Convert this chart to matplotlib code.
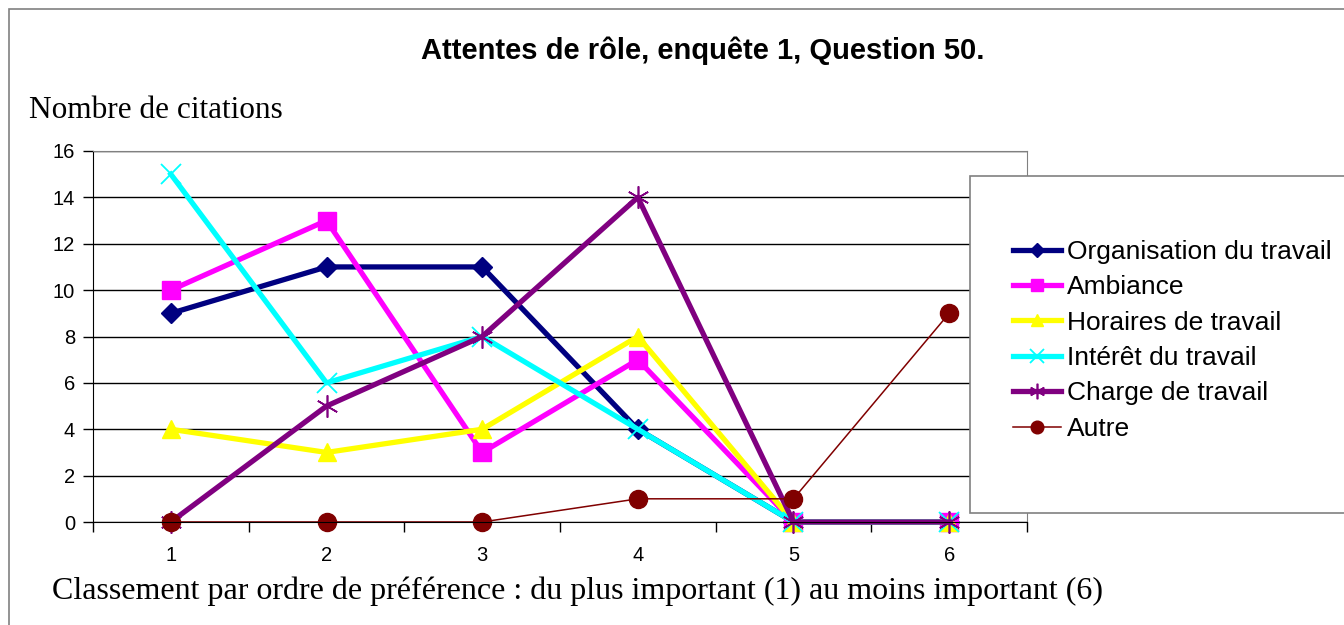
import matplotlib.pyplot as plt
from matplotlib.patches import Rectangle
import numpy as np

# ranks 1..6 and citation counts per criterion
ranks = [1, 2, 3, 4, 5, 6]
organisation = [9, 11, 11, 4, 0, 0]
ambiance = [10, 13, 3, 7, 0, 0]
horaires = [4, 3, 4, 8, 0, 0]
interet = [15, 6, 8, 4, 0, 0]
charge = [0, 5, 8, 14, 0, 0]
autre = [0, 0, 0, 1, 1, 9]

labels = ['Organisation du travail', 'Ambiance', 'Horaires de travail',
          'Intérêt du travail', 'Charge de travail', 'Autre']

W, H = 1344, 625
fig = plt.figure(figsize=(W / 100, H / 100), dpi=100)

# outer chart frame
fig.patches.append(Rectangle((9 / W, -0.05), 1.2, 1 - 9 / H + 0.05,
                             transform=fig.transFigure, fill=False,
                             edgecolor='#808080', linewidth=1.2, zorder=0))

ax = fig.add_axes([93 / W, (H - 522) / H, 934 / W, 371 / H])

# series: (values, color, marker, marker size, line width, marker edge width)
styles = [
    (organisation, '#000080', 'D', 10, 3.8, 1),
    (ambiance, '#FF00FF', 's', 13, 3.8, 1),
    (horaires, '#FFFF00', '^', 13, 3.8, 1),
    (interet, '#00FFFF', 'x', 15, 3.8, 1.3),
    (charge, '#800080', (6, 2, 0), 16, 3.8, 1.2),
    (autre, '#800000', 'o', 13, 1.1, 1),
]

handles = []
for (vals, col, mk, ms, lw, mew), lab in zip(styles, labels):
    h, = ax.plot(ranks, vals, color=col, marker=mk, markersize=ms,
                 linewidth=lw, markeredgewidth=mew, markerfacecolor=col,
                 markeredgecolor=col, label=lab, clip_on=False)
    handles.append(h)

ax.set_xlim(0.5, 6.5)
ax.set_ylim(0, 16)
ax.set_yticks(np.arange(0, 17, 2))
ax.set_xticks(ranks)
ax.set_xticks(np.arange(0.5, 6.6, 1), minor=True)
ax.tick_params(axis='x', which='major', length=0, pad=17, labelsize=14.5)
ax.tick_params(axis='x', which='minor', length=7, width=1, direction='out')
ax.tick_params(axis='y', length=7, width=1, direction='out', labelsize=14.5, pad=6)
ax.grid(axis='y', color='black', linewidth=1)
ax.set_axisbelow(True)
for s in ['top', 'right']:
    ax.spines[s].set_color('#808080')
for s in ['left', 'bottom']:
    ax.spines[s].set_color('black')
for lab in ax.get_xticklabels() + ax.get_yticklabels():
    lab.set_family('Liberation Sans')

# title and axis captions
fig.text(703 / W, 1 - 51 / H, 'Attentes de rôle, enquête 1, Question 50.',
         ha='center', va='center', fontsize=21, fontweight='bold',
         family='Liberation Sans')
fig.text(29 / W, 1 - 110 / H, 'Nombre de citations', ha='left', va='center',
         fontsize=22.5, family='Liberation Serif')
fig.text(52 / W, 1 - 591 / H,
         'Classement par ordre de préférence : du plus important (1) au moins important (6)',
         ha='left', va='center', fontsize=23, family='Liberation Serif')

# legend box
fig.patches.append(Rectangle((970 / W, 1 - 513 / H), 0.5, (513 - 176) / H,
                             transform=fig.transFigure, facecolor='white',
                             edgecolor='#808080', linewidth=1.2, zorder=5))
leg = fig.legend(handles=handles, loc='upper left',
                 bbox_to_anchor=(1013 / W, 1 - 240 / H), frameon=False,
                 prop={'family': 'Liberation Sans', 'size': 19},
                 handlelength=1.82, handletextpad=0.23, labelspacing=0.43,
                 borderaxespad=0, borderpad=0, markerscale=0.7)
leg.set_zorder(6)

fig.savefig('out.png', dpi=100)
